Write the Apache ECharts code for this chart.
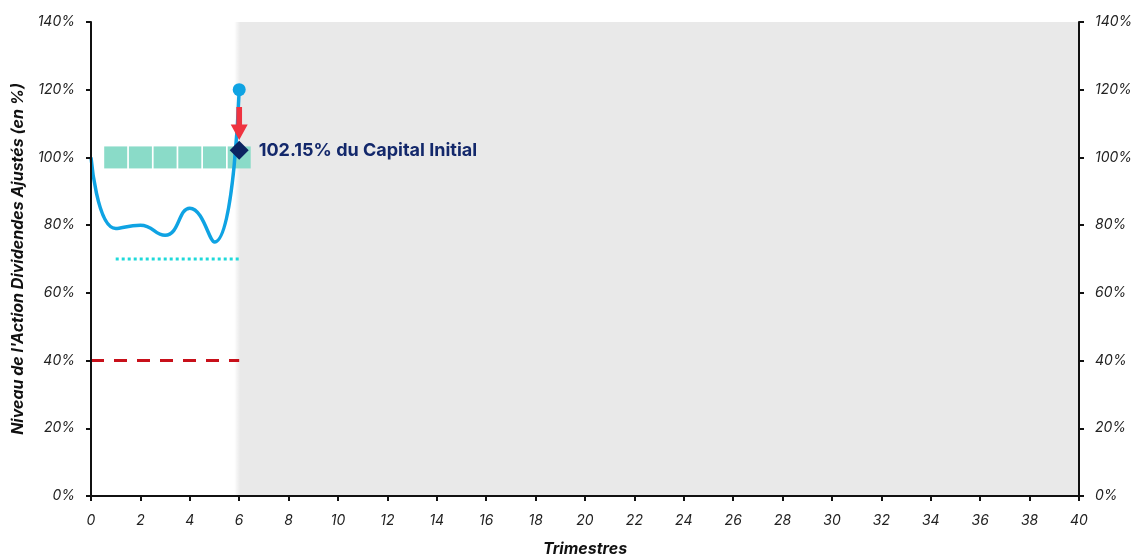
<!DOCTYPE html>
<html>
<head>
<meta charset="utf-8">
<script src="https://cdn.jsdelivr.net/npm/echarts@6/dist/echarts.min.js"></script>
<style>
  html, body { margin: 0; padding: 0; background: #fff; }
  #chart { width: 1133px; height: 558px; }
</style>
</head>
<body>
<div id="chart"></div>
<script>
// trimestres observés et niveau de l'action (en %)
const quarters = [0, 1, 2, 3, 4, 5, 6];
const stockLevel = [100, 79, 80, 77, 85, 75, 120];
// coupons versés
const couponQuarters = [1, 2, 3, 4, 5, 6];
const couponLevel = [100, 100, 100, 100, 100, 100];
// barrières
const couponBarrier = { from: 1, to: 6, level: 70 };
const capitalBarrier = { from: 0, to: 6, level: 40 };
// remboursement
const redemption = { x: 6, y: 102.15, label: '102.15% du Capital Initial' };
const arrowPoint = { x: 6, y: 110 };
const futureZone = [5.8, 40];

const font = 'Inter';
const axisColor = '#111';

const chart = echarts.init(document.getElementById('chart'));

const axisLabel = {
  fontFamily: font,
  fontStyle: 'italic',
  fontSize: 14,
  color: '#222',
  formatter: v => v + '%'
};

const option = {
  animation: false,
  grid: { left: 91, right: 54, top: 22, bottom: 62, outerBoundsMode: 'none' },
  xAxis: {
    type: 'value',
    min: 0,
    max: 40,
    interval: 2,
    z: 10,
    name: 'Trimestres',
    nameLocation: 'middle',
    nameGap: 45,
    nameTextStyle: { fontFamily: font, fontStyle: 'italic', fontWeight: 'bold', fontSize: 16, color: '#111' },
    axisLine: { lineStyle: { color: axisColor, width: 2 } },
    axisTick: { length: 5, lineStyle: { color: axisColor, width: 2 } },
    axisLabel: { fontFamily: font, fontStyle: 'italic', fontSize: 14, color: '#222', margin: 18 },
    splitLine: { show: false }
  },
  yAxis: [
    {
      type: 'value',
      min: 0,
      max: 140,
      interval: 20,
      z: 10,
      name: "Niveau de l'Action Dividendes Ajustés (en %)",
      nameLocation: 'middle',
      nameGap: 65,
      nameTextStyle: { fontFamily: font, fontStyle: 'italic', fontWeight: 'bold', fontSize: 16, color: '#111' },
      axisLine: { show: true, lineStyle: { color: axisColor, width: 2 } },
      axisTick: { show: true, length: 5, lineStyle: { color: axisColor, width: 2 } },
      axisLabel: Object.assign({}, axisLabel, { margin: 16 }),
      splitLine: { show: false }
    },
    {
      type: 'value',
      position: 'right',
      min: 0,
      max: 140,
      interval: 20,
      z: 10,
      axisLine: { show: true, lineStyle: { color: axisColor, width: 2 } },
      axisTick: { show: true, length: 5, lineStyle: { color: axisColor, width: 2 } },
      axisLabel: Object.assign({}, axisLabel, { margin: 16 }),
      splitLine: { show: false }
    }
  ],
  series: [
    {
      // zone future grisée
      type: 'line',
      data: [],
      z: 0,
      markArea: {
        silent: true,
        itemStyle: {
          color: new echarts.graphic.LinearGradient(0, 0, 1, 0, [
            { offset: 0, color: 'rgba(233,233,233,0)' },
            { offset: 0.007, color: '#e9e9e9' },
            { offset: 1, color: '#e9e9e9' }
          ])
        },
        data: [[{ xAxis: futureZone[0], yAxis: 0 }, { xAxis: futureZone[1], yAxis: 140 }]]
      }
    },
    {
      type: 'scatter',
      name: 'coupons',
      symbol: 'rect',
      symbolSize: [23, 22],
      itemStyle: { color: '#8adbc8', opacity: 1 },
      data: couponQuarters.map((q, i) => [q, couponLevel[i]]),
      z: 2
    },
    {
      type: 'line',
      name: 'barrière coupon',
      data: [[couponBarrier.from, couponBarrier.level], [couponBarrier.to, couponBarrier.level]],
      showSymbol: false,
      lineStyle: { color: '#1fd9d9', width: 3, type: [3, 3] },
      z: 2
    },
    {
      type: 'line',
      name: 'barrière capital',
      data: [[capitalBarrier.from, capitalBarrier.level], [capitalBarrier.to, capitalBarrier.level]],
      showSymbol: false,
      lineStyle: { color: '#c8101a', width: 3, type: [13, 10] },
      z: 2
    },
    {
      type: 'line',
      name: 'action',
      data: quarters.map((q, i) => [q, stockLevel[i]]),
      smooth: 0.5,
      showSymbol: false,
      lineStyle: { color: '#0fa3e3', width: 3.5 },
      z: 3
    },
    {
      type: 'scatter',
      name: 'dernier niveau',
      symbol: 'circle',
      symbolSize: 13,
      itemStyle: { color: '#0fa3e3', opacity: 1 },
      data: [[quarters[quarters.length - 1], stockLevel[stockLevel.length - 1]]],
      z: 4
    },
    {
      type: 'scatter',
      name: 'flèche',
      symbol: 'path://M6,0 L12,0 L12,18 L18,18 L9,34 L0,18 L6,18 Z',
      symbolSize: [17, 33],
      itemStyle: { color: '#ef3340', opacity: 1 },
      data: [[arrowPoint.x, arrowPoint.y]],
      z: 5
    },
    {
      type: 'scatter',
      name: 'remboursement',
      symbol: 'diamond',
      symbolSize: [19, 19],
      itemStyle: { color: '#0c2461', opacity: 1 },
      data: [[redemption.x, redemption.y]],
      label: {
        show: true,
        position: 'right',
        distance: 10,
        formatter: redemption.label,
        fontFamily: font,
        fontWeight: 'bold',
        fontSize: 18,
        color: '#13286b'
      },
      z: 6
    }
  ]
};

chart.setOption(option);
</script>
</body>
</html>
